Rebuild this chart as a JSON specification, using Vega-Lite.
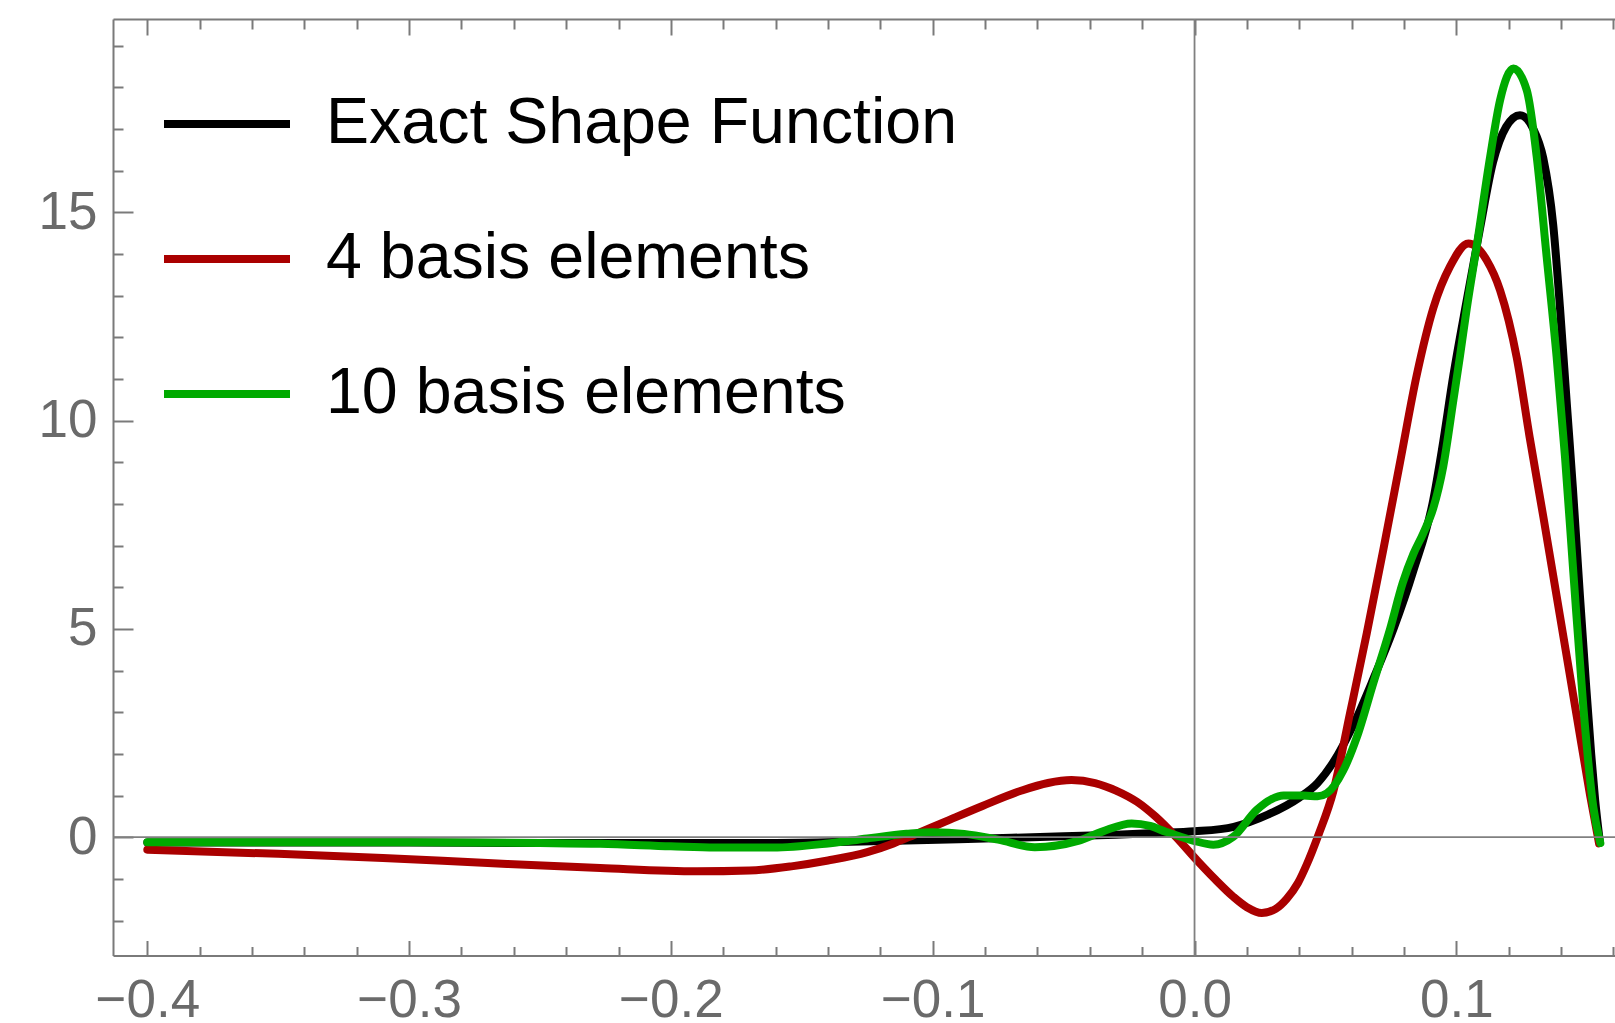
{
  "$schema": "https://vega.github.io/schema/vega-lite/v6.json",
  "autosize": {"type": "none"},
  "padding": {"left": 113, "top": 19, "right": 0, "bottom": 67.5},
  "width": 1502,
  "height": 936.5,
  "background": "white",
  "config": {"view": {"stroke": null}},
  "resolve": {"axis": {"x": "independent"}},
  "layer": [
    {
      "data": {"values": [
        {"s":"Exact Shape Function","x":-0.4,"y":-0.13},{"s":"Exact Shape Function","x":-0.35,"y":-0.13},{"s":"Exact Shape Function","x":-0.3,"y":-0.13},{"s":"Exact Shape Function","x":-0.25,"y":-0.14},{"s":"Exact Shape Function","x":-0.2,"y":-0.14},{"s":"Exact Shape Function","x":-0.17,"y":-0.14},{"s":"Exact Shape Function","x":-0.14,"y":-0.12},{"s":"Exact Shape Function","x":-0.11,"y":-0.08},{"s":"Exact Shape Function","x":-0.08,"y":-0.03},{"s":"Exact Shape Function","x":-0.05,"y":0.02},{"s":"Exact Shape Function","x":-0.03,"y":0.06},{"s":"Exact Shape Function","x":-0.015,"y":0.1},{"s":"Exact Shape Function","x":0,"y":0.14},{"s":"Exact Shape Function","x":0.015,"y":0.25},{"s":"Exact Shape Function","x":0.028,"y":0.54},{"s":"Exact Shape Function","x":0.04,"y":0.95},{"s":"Exact Shape Function","x":0.047,"y":1.3},{"s":"Exact Shape Function","x":0.053,"y":1.8},{"s":"Exact Shape Function","x":0.0607,"y":2.7},{"s":"Exact Shape Function","x":0.0683,"y":3.8},{"s":"Exact Shape Function","x":0.076,"y":5.0},{"s":"Exact Shape Function","x":0.0836,"y":6.4},{"s":"Exact Shape Function","x":0.0912,"y":8.1},{"s":"Exact Shape Function","x":0.0945,"y":9.3},{"s":"Exact Shape Function","x":0.0989,"y":11.1},{"s":"Exact Shape Function","x":0.104,"y":12.9},{"s":"Exact Shape Function","x":0.109,"y":14.6},{"s":"Exact Shape Function","x":0.114,"y":16.2},{"s":"Exact Shape Function","x":0.119,"y":17.05},{"s":"Exact Shape Function","x":0.1243,"y":17.33},{"s":"Exact Shape Function","x":0.1294,"y":17.0},{"s":"Exact Shape Function","x":0.1332,"y":16.3},{"s":"Exact Shape Function","x":0.137,"y":14.7},{"s":"Exact Shape Function","x":0.1396,"y":12.7},{"s":"Exact Shape Function","x":0.1422,"y":10.4},{"s":"Exact Shape Function","x":0.1445,"y":8.4},{"s":"Exact Shape Function","x":0.1472,"y":5.8},{"s":"Exact Shape Function","x":0.1495,"y":3.7},{"s":"Exact Shape Function","x":0.1515,"y":2.0},{"s":"Exact Shape Function","x":0.153,"y":0.9},{"s":"Exact Shape Function","x":0.1548,"y":-0.1},
        {"s":"4 basis elements","x":-0.4,"y":-0.3},{"s":"4 basis elements","x":-0.35,"y":-0.4},{"s":"4 basis elements","x":-0.31,"y":-0.5},{"s":"4 basis elements","x":-0.27,"y":-0.62},{"s":"4 basis elements","x":-0.227,"y":-0.74},{"s":"4 basis elements","x":-0.19,"y":-0.82},{"s":"4 basis elements","x":-0.17,"y":-0.8},{"s":"4 basis elements","x":-0.154,"y":-0.7},{"s":"4 basis elements","x":-0.14,"y":-0.56},{"s":"4 basis elements","x":-0.125,"y":-0.36},{"s":"4 basis elements","x":-0.115,"y":-0.15},{"s":"4 basis elements","x":-0.107,"y":0.06},{"s":"4 basis elements","x":-0.095,"y":0.38},{"s":"4 basis elements","x":-0.081,"y":0.75},{"s":"4 basis elements","x":-0.066,"y":1.12},{"s":"4 basis elements","x":-0.056,"y":1.3},{"s":"4 basis elements","x":-0.047,"y":1.37},{"s":"4 basis elements","x":-0.038,"y":1.3},{"s":"4 basis elements","x":-0.03,"y":1.12},{"s":"4 basis elements","x":-0.022,"y":0.85},{"s":"4 basis elements","x":-0.015,"y":0.5},{"s":"4 basis elements","x":-0.007,"y":0.0},{"s":"4 basis elements","x":0.001,"y":-0.56},{"s":"4 basis elements","x":0.008,"y":-1.02},{"s":"4 basis elements","x":0.0148,"y":-1.43},{"s":"4 basis elements","x":0.02,"y":-1.68},{"s":"4 basis elements","x":0.0257,"y":-1.82},{"s":"4 basis elements","x":0.031,"y":-1.72},{"s":"4 basis elements","x":0.0352,"y":-1.48},{"s":"4 basis elements","x":0.0395,"y":-1.1},{"s":"4 basis elements","x":0.0429,"y":-0.65},{"s":"4 basis elements","x":0.0473,"y":0.05},{"s":"4 basis elements","x":0.053,"y":1.1},{"s":"4 basis elements","x":0.0594,"y":2.98},{"s":"4 basis elements","x":0.0658,"y":4.9},{"s":"4 basis elements","x":0.0721,"y":6.9},{"s":"4 basis elements","x":0.0785,"y":9.0},{"s":"4 basis elements","x":0.0849,"y":11.1},{"s":"4 basis elements","x":0.0912,"y":12.7},{"s":"4 basis elements","x":0.0976,"y":13.7},{"s":"4 basis elements","x":0.1046,"y":14.25},{"s":"4 basis elements","x":0.1116,"y":13.85},{"s":"4 basis elements","x":0.1167,"y":13.13},{"s":"4 basis elements","x":0.1231,"y":11.5},{"s":"4 basis elements","x":0.128,"y":9.6},{"s":"4 basis elements","x":0.1332,"y":7.7},{"s":"4 basis elements","x":0.1396,"y":5.3},{"s":"4 basis elements","x":0.146,"y":2.9},{"s":"4 basis elements","x":0.1511,"y":1.0},{"s":"4 basis elements","x":0.1545,"y":-0.15},
        {"s":"10 basis elements","x":-0.4,"y":-0.12},{"s":"10 basis elements","x":-0.35,"y":-0.12},{"s":"10 basis elements","x":-0.3,"y":-0.12},{"s":"10 basis elements","x":-0.25,"y":-0.14},{"s":"10 basis elements","x":-0.227,"y":-0.16},{"s":"10 basis elements","x":-0.2,"y":-0.22},{"s":"10 basis elements","x":-0.183,"y":-0.25},{"s":"10 basis elements","x":-0.161,"y":-0.25},{"s":"10 basis elements","x":-0.14,"y":-0.15},{"s":"10 basis elements","x":-0.125,"y":-0.03},{"s":"10 basis elements","x":-0.11,"y":0.08},{"s":"10 basis elements","x":-0.1,"y":0.12},{"s":"10 basis elements","x":-0.088,"y":0.08},{"s":"10 basis elements","x":-0.075,"y":-0.06},{"s":"10 basis elements","x":-0.061,"y":-0.24},{"s":"10 basis elements","x":-0.0445,"y":-0.09},{"s":"10 basis elements","x":-0.035,"y":0.14},{"s":"10 basis elements","x":-0.024,"y":0.33},{"s":"10 basis elements","x":-0.017,"y":0.27},{"s":"10 basis elements","x":-0.011,"y":0.13},{"s":"10 basis elements","x":-0.0006,"y":-0.08},{"s":"10 basis elements","x":0.0072,"y":-0.18},{"s":"10 basis elements","x":0.0148,"y":0.01},{"s":"10 basis elements","x":0.0238,"y":0.66},{"s":"10 basis elements","x":0.029,"y":0.9},{"s":"10 basis elements","x":0.034,"y":1.0},{"s":"10 basis elements","x":0.0416,"y":1.0},{"s":"10 basis elements","x":0.047,"y":0.98},{"s":"10 basis elements","x":0.0505,"y":1.05},{"s":"10 basis elements","x":0.0568,"y":1.6},{"s":"10 basis elements","x":0.062,"y":2.4},{"s":"10 basis elements","x":0.0683,"y":3.7},{"s":"10 basis elements","x":0.0747,"y":5.0},{"s":"10 basis elements","x":0.0795,"y":6.1},{"s":"10 basis elements","x":0.0836,"y":6.8},{"s":"10 basis elements","x":0.0874,"y":7.3},{"s":"10 basis elements","x":0.0912,"y":7.9},{"s":"10 basis elements","x":0.095,"y":8.9},{"s":"10 basis elements","x":0.0989,"y":10.5},{"s":"10 basis elements","x":0.1014,"y":11.55},{"s":"10 basis elements","x":0.104,"y":12.7},{"s":"10 basis elements","x":0.1078,"y":14.2},{"s":"10 basis elements","x":0.1129,"y":16.33},{"s":"10 basis elements","x":0.1167,"y":17.69},{"s":"10 basis elements","x":0.1218,"y":18.45},{"s":"10 basis elements","x":0.1269,"y":17.93},{"s":"10 basis elements","x":0.1307,"y":16.33},{"s":"10 basis elements","x":0.1345,"y":13.93},{"s":"10 basis elements","x":0.1383,"y":11.53},{"s":"10 basis elements","x":0.1415,"y":9.13},{"s":"10 basis elements","x":0.1447,"y":6.34},{"s":"10 basis elements","x":0.1485,"y":3.13},{"s":"10 basis elements","x":0.1523,"y":0.73},{"s":"10 basis elements","x":0.155,"y":-0.14}
      ]},
      "mark": {"type": "line", "interpolate": "monotone", "strokeWidth": 8, "strokeJoin": "round", "strokeCap": "round"},
      "encoding": {
        "x": {"field": "x", "type": "quantitative",
          "scale": {"domain": [-0.4131, 0.1606], "nice": false, "zero": false},
          "axis": {"orient": "bottom", "title": null, "grid": false,
            "values": [-0.4,-0.38,-0.36,-0.34,-0.32,-0.3,-0.28,-0.26,-0.24,-0.22,-0.2,-0.18,-0.16,-0.14,-0.12,-0.1,-0.08,-0.06,-0.04,-0.02,0,0.02,0.04,0.06,0.08,0.1,0.12,0.14,0.16],
            "domainColor": "#7a7a7a", "domainWidth": 2,
            "tickColor": "#7a7a7a", "tickWidth": 2,
            "tickSize": {"condition": {"test": "abs(datum.value*10-round(datum.value*10))<1e-6", "value": -15}, "value": -9},
            "labelExpr": "abs(datum.value*10-round(datum.value*10))<1e-6 ? replace(format(datum.value,'.1f'),'-','\u2212') : ''",
            "labelFont": "Liberation Sans", "labelFontSize": 53, "labelColor": "#6a6a6a",
            "labelPadding": 34, "labelOverlap": false, "labelFlush": false, "labelBound": false}},
        "y": {"field": "y", "type": "quantitative",
          "scale": {"domain": [-2.84, 19.64], "nice": false, "zero": false},
          "axis": {"orient": "left", "title": null, "grid": false,
            "values": [-2,-1,0,1,2,3,4,5,6,7,8,9,10,11,12,13,14,15,16,17,18,19],
            "domainColor": "#7a7a7a", "domainWidth": 2,
            "tickColor": "#7a7a7a", "tickWidth": 2,
            "tickSize": {"condition": {"test": "datum.value % 5 == 0", "value": -20}, "value": -10},
            "labelExpr": "datum.value % 5 == 0 ? format(datum.value,'d') : ''",
            "labelFont": "Liberation Sans", "labelFontSize": 53, "labelColor": "#6a6a6a",
            "labelPadding": 36, "labelOverlap": false, "labelFlush": false, "labelBound": false}},
        "color": {"field": "s", "type": "nominal",
          "scale": {"domain": ["Exact Shape Function", "4 basis elements", "10 basis elements"], "range": ["#000000", "#aa0000", "#00aa00"]},
          "legend": {"orient": "none", "legendX": 47, "legendY": 38, "title": null,
            "symbolType": "stroke", "symbolSize": 15876, "symbolStrokeWidth": 8,
            "labelFont": "Liberation Sans", "labelFontSize": 64.5, "labelColor": "#000000",
            "labelOffset": 32, "rowPadding": 36, "padding": 0, "labelLimit": 2000}}
      }
    },
    {
      "data": {"values": [{"v": 0}]},
      "mark": {"type": "rule", "color": "#808080", "strokeWidth": 1.8},
      "encoding": {"y": {"field": "v", "type": "quantitative"}}
    },
    {
      "data": {"values": [{"v": 0}]},
      "mark": {"type": "rule", "color": "#808080", "strokeWidth": 1.8},
      "encoding": {"x": {"field": "v", "type": "quantitative",
        "axis": {"orient": "top", "title": null, "grid": false, "labels": false,
          "values": [-0.4,-0.38,-0.36,-0.34,-0.32,-0.3,-0.28,-0.26,-0.24,-0.22,-0.2,-0.18,-0.16,-0.14,-0.12,-0.1,-0.08,-0.06,-0.04,-0.02,0,0.02,0.04,0.06,0.08,0.1,0.12,0.14,0.16],
          "domainColor": "#7a7a7a", "domainWidth": 2,
          "tickColor": "#7a7a7a", "tickWidth": 2,
          "tickSize": {"condition": {"test": "abs(datum.value*10-round(datum.value*10))<1e-6", "value": -16}, "value": -10}}}}
    }
  ]
}
